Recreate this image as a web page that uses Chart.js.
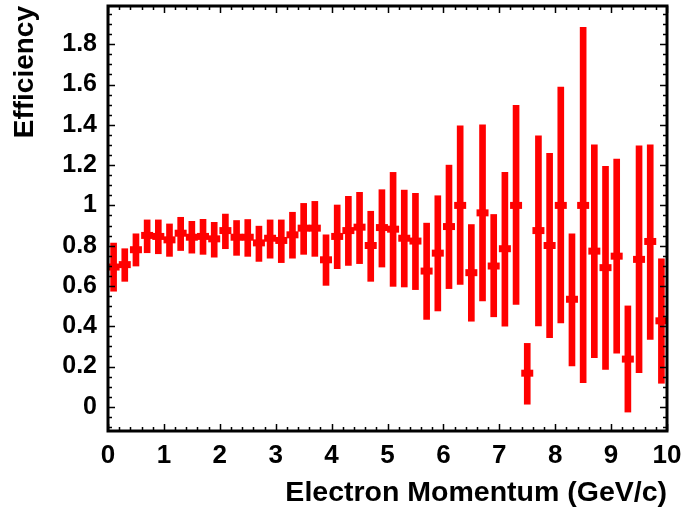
<!DOCTYPE html>
<html>
<head>
<meta charset="utf-8">
<script src="https://cdn.jsdelivr.net/npm/chart.js@4/dist/chart.umd.min.js"></script>
<style>
  html, body { margin: 0; padding: 0; background: #fff; }
  #wrap { width: 686px; height: 512px; }
</style>
</head>
<body>
<div id="wrap"><canvas id="eff" width="686" height="512"></canvas></div>
<script>
// bin centres (GeV/c)
const binCenters = [
  0.1, 0.3, 0.5, 0.7, 0.9, 1.1, 1.3, 1.5, 1.7, 1.9,
  2.1, 2.3, 2.5, 2.7, 2.9, 3.1, 3.3, 3.5, 3.7, 3.9,
  4.1, 4.3, 4.5, 4.7, 4.9, 5.1, 5.3, 5.5, 5.7, 5.9,
  6.1, 6.3, 6.5, 6.7, 6.9, 7.1, 7.3, 7.5, 7.7, 7.9,
  8.1, 8.3, 8.5, 8.7, 8.9, 9.1, 9.3, 9.5, 9.7, 9.9
];
const efficiency = [
  0.694, 0.706, 0.780, 0.851, 0.846, 0.829, 0.862, 0.842, 0.846, 0.834,
  0.875, 0.842, 0.842, 0.814, 0.837, 0.826, 0.854, 0.887, 0.887, 0.730,
  0.846, 0.875, 0.892, 0.801, 0.890, 0.882, 0.837, 0.823, 0.674, 0.763,
  0.895, 1.000, 0.666, 0.963, 0.699, 0.785, 1.000, 0.167, 0.875, 0.801,
  1.000, 0.534, 1.000, 0.773, 0.691, 0.748, 0.237, 0.732, 0.821, 0.427
];
const errHigh = [
  0.813, 0.785, 0.859, 0.928, 0.928, 0.908, 0.941, 0.921, 0.931, 0.916,
  0.957, 0.925, 0.930, 0.897, 0.928, 0.928, 0.966, 1.010, 1.020, 0.854,
  1.002, 1.045, 1.065, 0.971, 1.078, 1.164, 1.076, 1.060, 0.912, 1.048,
  1.200, 1.395, 0.905, 1.400, 0.955, 1.164, 1.497, 0.315, 1.345, 1.258,
  1.588, 0.859, 1.884, 1.301, 1.194, 1.230, 0.501, 1.296, 1.301, 0.735
];
const errLow = [
  0.574, 0.623, 0.699, 0.765, 0.760, 0.747, 0.776, 0.763, 0.757, 0.743,
  0.785, 0.752, 0.747, 0.722, 0.738, 0.716, 0.738, 0.757, 0.747, 0.603,
  0.686, 0.702, 0.711, 0.623, 0.694, 0.598, 0.595, 0.582, 0.434, 0.476,
  0.587, 0.608, 0.425, 0.526, 0.447, 0.401, 0.508, 0.013, 0.402, 0.343,
  0.417, 0.203, 0.120, 0.244, 0.186, 0.266, -0.026, 0.170, 0.335, 0.117
];
const xTickValues = [0, 1, 2, 3, 4, 5, 6, 7, 8, 9, 10];
const yTickValues = [0, 0.2, 0.4, 0.6, 0.8, 1, 1.2, 1.4, 1.6, 1.8];

const RED = '#ff0000';

// frame with inward major/minor ticks, ROOT style
const framePlugin = {
  id: 'frame',
  afterDatasetsDraw(chart) {
    const { ctx, chartArea: a, scales: { x, y } } = chart;
    ctx.save();
    ctx.strokeStyle = '#000';
    ctx.lineWidth = 1.5;
    ctx.beginPath();
    for (let v = 0; v <= 10.001; v += 0.2) {
      const px = Math.round(x.getPixelForValue(v)) + 0.5;
      const len = Math.abs(v - Math.round(v)) < 1e-6 ? 7 : 4;
      ctx.moveTo(px, a.bottom); ctx.lineTo(px, a.bottom - len);
      ctx.moveTo(px, a.top); ctx.lineTo(px, a.top + len);
    }
    for (let k = -2; k <= 39; k++) {
      const v = k * 0.05;
      const py = Math.round(y.getPixelForValue(v)) + 0.5;
      if (py < a.top || py > a.bottom) continue;
      const len = k % 4 === 0 ? 7 : 4;
      ctx.moveTo(a.left, py); ctx.lineTo(a.left + len, py);
      ctx.moveTo(a.right, py); ctx.lineTo(a.right - len, py);
    }
    ctx.stroke();
    ctx.lineWidth = 3;
    ctx.strokeRect(a.left, a.top, a.right - a.left, a.bottom - a.top);
    ctx.restore();
  }
};

// keep the plot box where the reference has it
function noEdgePadding(s) {
  s.paddingTop = 0; s.paddingBottom = 0;
  s.paddingLeft = 0; s.paddingRight = 0;
}

new Chart(document.getElementById('eff'), {
  data: {
    datasets: [
      {
        type: 'line',
        data: binCenters.map((c, i) => ({ x: c, y: efficiency[i] })),
        showLine: false,
        pointStyle: 'line',
        pointRadius: 6,
        pointHoverRadius: 6,
        pointBorderWidth: 7,
        pointBorderColor: RED,
        pointBackgroundColor: RED
      },
      {
        type: 'bar',
        data: binCenters.map((c, i) => ({ x: c, y: [errLow[i], errHigh[i]] })),
        backgroundColor: RED,
        borderWidth: 0,
        barThickness: 6
      }
    ]
  },
  options: {
    responsive: false,
    animation: false,
    devicePixelRatio: 1,
    layout: { autoPadding: false, padding: { left: 0, top: 6, right: 19, bottom: 0 } },
    plugins: { legend: { display: false }, tooltip: { enabled: false } },
    scales: {
      x: {
        type: 'linear',
        min: 0,
        max: 10,
        offset: false,
        grid: { display: false, drawTicks: false, offset: false },
        border: { display: false },
        afterBuildTicks: s => { s.ticks = xTickValues.map(v => ({ value: v })); },
        afterFit: s => { s.height = 81; noEdgePadding(s); },
        ticks: {
          padding: 9,
          color: '#000',
          font: { family: 'Liberation Sans', size: 26, weight: 'bold' },
          callback: v => String(v)
        },
        title: {
          display: true,
          text: 'Electron Momentum (GeV/c)',
          align: 'end',
          color: '#000',
          padding: { top: 0, bottom: 2 },
          font: { family: 'Liberation Sans', size: 28.5, weight: 'bold' }
        }
      },
      y: {
        type: 'linear',
        min: -0.12,
        max: 1.99,
        grid: { display: false, drawTicks: false },
        border: { display: false },
        afterBuildTicks: s => { s.ticks = yTickValues.map(v => ({ value: v })); },
        afterFit: s => { s.width = 108; noEdgePadding(s); },
        ticks: {
          padding: 11,
          color: '#000',
          font: { family: 'Liberation Sans', size: 25, weight: 'bold' },
          callback: v => String(+v.toFixed(1))
        },
        title: {
          display: true,
          text: 'Efficiency',
          align: 'end',
          color: '#000',
          padding: { top: 8, bottom: 0 },
          font: { family: 'Liberation Sans', size: 28, weight: 'bold' }
        }
      }
    }
  },
  plugins: [framePlugin]
});
</script>
</body>
</html>
